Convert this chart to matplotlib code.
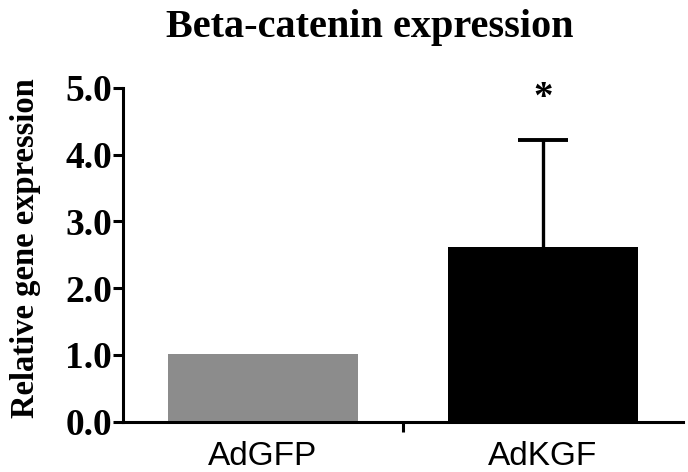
import numpy as np
import matplotlib
matplotlib.use("Agg")
import matplotlib.pyplot as plt
from matplotlib.ticker import FormatStrFormatter

# data
groups = ["AdGFP", "AdKGF"]
means = [1.02, 2.62]
err_up = [0.0, 1.6]
bar_colors = ["#8c8c8c", "#000000"]
yticks = [0.0, 1.0, 2.0, 3.0, 4.0, 5.0]
signif = ["", "*"]

fig = plt.figure(figsize=(6.88, 4.72), dpi=100)
ax = fig.add_axes([0.1788, 0.1066, 0.814, 0.707])

x = np.arange(len(groups))
ax.bar(x, means, width=0.68, color=bar_colors, zorder=2)
# only the upper half of the error bar, like the original
_, caps, _ = ax.errorbar(x[1], means[1], yerr=[[0], [err_up[1]]], fmt="none",
                         ecolor="black", elinewidth=2.4, capsize=18,
                         capthick=2.8, zorder=3)
for c in caps:
    if c.get_ydata()[0] <= means[1] + 1e-9:
        c.set_visible(False)

for xi, m, e, s in zip(x, means, err_up, signif):
    if s:
        ax.text(xi, m + e + 0.62, s, ha="center", va="center",
                fontsize=28, fontweight="bold", family="Liberation Serif")

ax.set_xlim(-0.5, 1.5)
ax.set_ylim(0, 5.0)

serif = "Liberation Serif"
ax.set_yticks(yticks)
ax.yaxis.set_major_formatter(FormatStrFormatter("%.1f"))
for lab in ax.get_yticklabels():
    lab.set_family(serif)
    lab.set_fontweight("bold")
    lab.set_fontsize(27)
ax.tick_params(axis="y", length=7, width=2.2, pad=1)

ax.set_xticks(x)
ax.set_xticklabels(groups, family="Liberation Sans", fontsize=24)
ax.tick_params(axis="x", which="major", length=0, pad=14)
ax.set_xticks([0.5], minor=True)
ax.tick_params(axis="x", which="minor", length=7, width=2.2)

ax.set_ylabel("Relative gene expression", family=serif, fontweight="bold",
              fontsize=23.5)
ax.yaxis.set_label_coords(-0.147, 0.52)
ax.set_title("Beta-catenin expression", family=serif, fontweight="bold",
             fontsize=29, pad=37, x=0.44)

for side in ["top", "right"]:
    ax.spines[side].set_visible(False)
for side in ["left", "bottom"]:
    ax.spines[side].set_linewidth(2.2)

fig.savefig("out.png", dpi=100)
